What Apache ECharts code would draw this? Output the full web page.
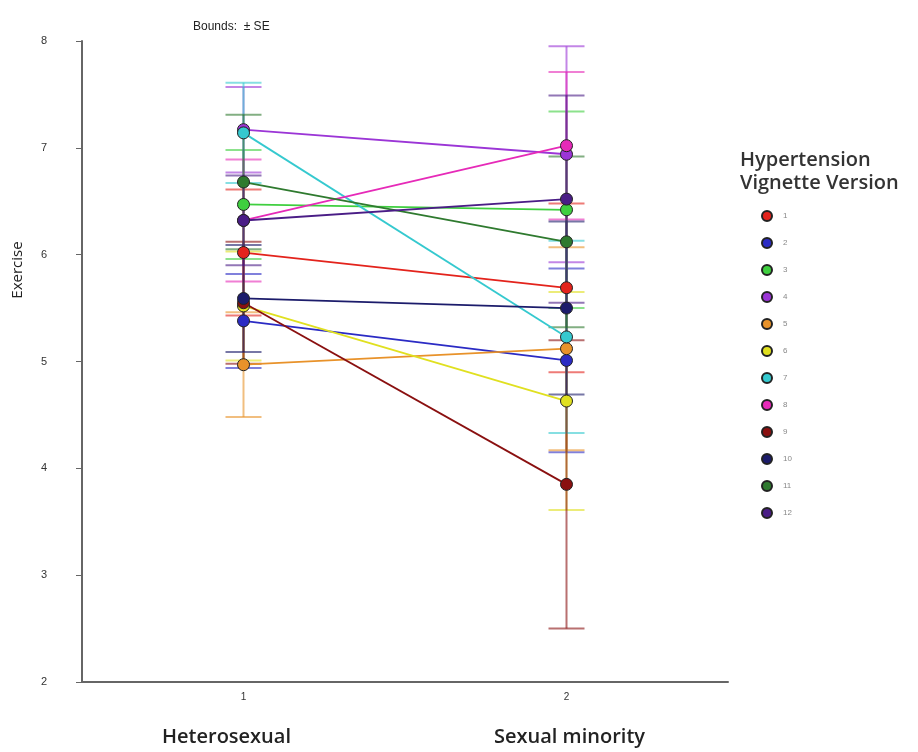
<!DOCTYPE html>
<html>
<head>
<meta charset="utf-8">
<script src="https://cdn.jsdelivr.net/npm/echarts@6/dist/echarts.min.js"></script>
<style>html,body{margin:0;padding:0;background:#fff;}#chart{width:918px;height:752px;}</style>
</head>
<body>
<div id="chart"></div>
<script>
const groups = ['1', '2'];
const groupNames = ['Heterosexual', 'Sexual minority'];
const versions = ['1','2','3','4','5','6','7','8','9','10','11','12'];
const colors = ['#e3231c','#2b2bc4','#3fcf3f','#9b35d6','#e8922a','#e0e020','#35c9cf','#e62ab8','#8a1010','#1c1c6b','#2f7a2f','#4a1d86'];
const heteroMeans   = [6.02, 5.38, 6.47, 7.17, 4.97, 5.52, 7.14, 6.32, 5.55, 5.59, 6.68, 6.32];
const minorityMeans = [5.69, 5.01, 6.42, 6.94, 5.12, 4.63, 5.23, 7.02, 3.85, 5.50, 6.12, 6.52];
const heteroSE      = [0.59, 0.44, 0.51, 0.40, 0.49, 0.51, 0.47, 0.57, 0.57, 0.50, 0.63, 0.42];
const minoritySE    = [0.79, 0.86, 0.92, 1.01, 0.95, 1.02, 0.90, 0.69, 1.35, 0.81, 0.80, 0.97];
const yTicks = [2, 3, 4, 5, 6, 7, 8];

const chart = echarts.init(document.getElementById('chart'), null, {renderer: 'canvas'});

const series = [];
versions.forEach((v, i) => {
  series.push({
    name: v,
    type: 'line',
    z: 3,
    data: [heteroMeans[i], minorityMeans[i]],
    symbol: 'circle',
    symbolSize: 12,
    lineStyle: {color: colors[i], width: 1.8},
    itemStyle: {color: colors[i], borderColor: '#222', borderWidth: 1},
    emphasis: {disabled: true},
    animation: false
  });
});
versions.forEach((v, i) => {
  series.push({
    name: v,
    type: 'custom',
    z: 1,
    animation: false,
    data: [
      [0, heteroMeans[i] - heteroSE[i], heteroMeans[i] + heteroSE[i]],
      [1, minorityMeans[i] - minoritySE[i], minorityMeans[i] + minoritySE[i]]
    ],
    renderItem: function (params, api) {
      const lo = api.coord([api.value(0), api.value(1)]);
      const hi = api.coord([api.value(0), api.value(2)]);
      const hw = 18;
      const style = {stroke: colors[i], lineWidth: 2, opacity: 0.6};
      return {
        type: 'group',
        children: [
          {type: 'line', shape: {x1: lo[0], y1: lo[1], x2: hi[0], y2: hi[1]}, style: style},
          {type: 'line', shape: {x1: lo[0] - hw, y1: lo[1], x2: lo[0] + hw, y2: lo[1]}, style: style},
          {type: 'line', shape: {x1: hi[0] - hw, y1: hi[1], x2: hi[0] + hw, y2: hi[1]}, style: style}
        ]
      };
    },
    encode: {x: 0, y: [1, 2]}
  });
});

chart.setOption({
  backgroundColor: '#ffffff',
  animation: false,
  grid: {left: 82, right: 190, top: 41, bottom: 70, containLabel: false},
  xAxis: {
    type: 'category',
    data: groups,
    boundaryGap: true,
    axisLine: {lineStyle: {color: '#666', width: 2}},
    axisTick: {alignWithLabel: true, length: 5, lineStyle: {color: '#666'}},
    axisLabel: {
      margin: 6,
      formatter: function (val, idx) { return '{t|' + val + '}\n{n' + idx + '|' + groupNames[idx] + '}'; },
      rich: {
        t: {fontSize: 10, color: '#333', fontFamily: 'Liberation Sans', lineHeight: 18},
        n0: {fontSize: 20, color: '#222', fontFamily: 'Open Sans', fontWeight: 600, lineHeight: 62, padding: [0, 34, 0, 0]},
        n1: {fontSize: 20, color: '#222', fontFamily: 'Open Sans', fontWeight: 600, lineHeight: 62, padding: [0, 0, 0, 6]}
      }
    },
    splitLine: {show: false}
  },
  yAxis: {
    type: 'value',
    min: 2, max: 8, interval: 1,
    axisLine: {show: true, lineStyle: {color: '#666', width: 2}},
    axisTick: {show: true, length: 6, lineStyle: {color: '#666'}},
    axisLabel: {
      margin: 35, fontSize: 11, color: '#333', fontFamily: 'Liberation Sans',
      formatter: function (v) { return yTicks.indexOf(v) >= 0 ? String(v) : ''; }
    },
    splitLine: {show: false}
  },
  legend: {
    data: versions,
    orient: 'vertical',
    left: 756,
    top: 205,
    icon: 'circle',
    itemWidth: 10,
    itemHeight: 10,
    itemGap: 15,
    selectedMode: false,
    textStyle: {fontSize: 8, color: '#888', fontFamily: 'Liberation Sans', padding: [0, 0, 0, 6]}
  },
  graphic: [
    {type: 'text', left: 193, top: 21, style: {text: 'Bounds:  \u00b1 SE', font: '12px "Liberation Sans"', fill: '#222'}},
    {type: 'text', x: 18, y: 270, rotation: Math.PI / 2, style: {text: 'Exercise', font: '15px "Open Sans"', fill: '#222', textAlign: 'center', textVerticalAlign: 'middle'}},
    {type: 'text', left: 740, top: 149, style: {text: 'Hypertension\nVignette Version', font: '600 20px "Open Sans"', fill: '#333', lineHeight: 23}}
  ],
  series: series
});
</script>
</body>
</html>
